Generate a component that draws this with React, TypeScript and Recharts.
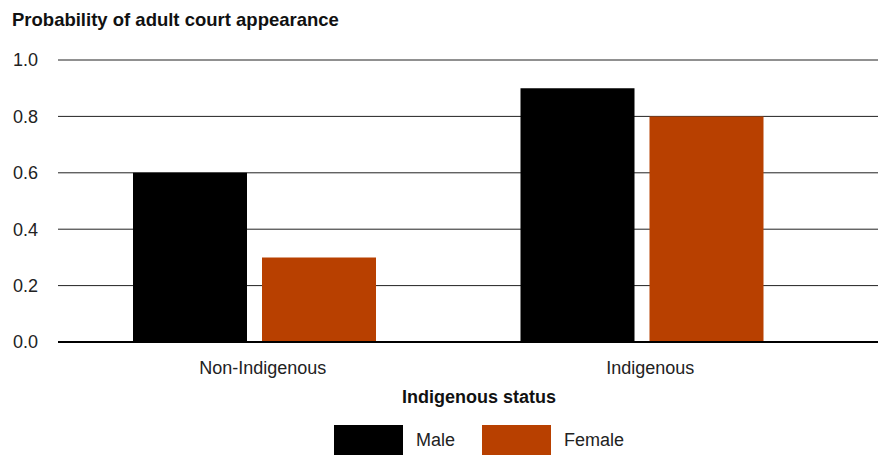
import React from "react";
import { BarChart, Bar, XAxis, YAxis, CartesianGrid, Legend } from "recharts";

const categories = ["Non-Indigenous", "Indigenous"];
const maleValues = [0.6, 0.9];
const femaleValues = [0.3, 0.8];
const yTicks = [0, 0.2, 0.4, 0.6, 0.8, 1.0];
const seriesNames = ["Male", "Female"];
const seriesColors = ["#000000", "#B84000"];

const data = categories.map((c, i) => ({
  category: c,
  Male: maleValues[i],
  Female: femaleValues[i],
}));

const FONT = "'Liberation Sans', Arial, Helvetica, sans-serif";

const LegendContent = () => (
  <div
    style={{
      display: "flex",
      justifyContent: "center",
      alignItems: "center",
      height: 36,
      fontFamily: FONT,
      fontSize: 18,
      color: "#222",
    }}
  >
    {seriesNames.map((n, i) => (
      <div key={n} style={{ display: "flex", alignItems: "center", marginRight: i === 0 ? 27 : 0 }}>
        <div style={{ width: 69, height: 30, background: seriesColors[i], marginRight: 13 }} />
        <span>{n}</span>
      </div>
    ))}
  </div>
);

export default function App() {
  return (
    <div style={{ position: "absolute", left: 0, top: 0, width: 887, height: 456, background: "#fff" }}>
      <div
        style={{
          position: "absolute",
          left: 12,
          top: 11,
          fontFamily: FONT,
          fontWeight: "bold",
          fontSize: 18.5,
          lineHeight: "18.5px",
          color: "#111",
          whiteSpace: "nowrap",
          zIndex: 2,
        }}
      >
        Probability of adult court appearance
      </div>
      <BarChart
        width={887}
        height={456}
        data={data}
        margin={{ top: 60, right: 9, bottom: 0, left: 0 }}
        barSize={114}
        barGap={15}
      >
        <CartesianGrid vertical={false} stroke="#222" strokeWidth={1} />
        <XAxis
          dataKey="category"
          height={78}
          padding={{ left: 3, right: 42 }}
          axisLine={{ stroke: "#000", strokeWidth: 2 }}
          tickLine={false}
          tickSize={0}
          tickMargin={19}
          tick={{ fontSize: 18, fill: "#222", fontFamily: FONT, dx: 8 }}
          label={{
            value: "Indigenous status",
            position: "bottom",
            offset: -30,
            dx: 11,
            style: { fontSize: 18, fontWeight: "bold", fill: "#111", fontFamily: FONT },
          }}
        />
        <YAxis
          width={58}
          domain={[0, 1]}
          ticks={yTicks}
          axisLine={false}
          tickLine={false}
          tickSize={0}
          tickMargin={20}
          tickFormatter={(v: number) => v.toFixed(1)}
          tick={{ fontSize: 18, fill: "#222", fontFamily: FONT }}
        />
        <Legend
          verticalAlign="bottom"
          content={<LegendContent />}
          wrapperStyle={{ left: 71, width: 816, bottom: -2 }}
        />
        <Bar dataKey="Male" fill={seriesColors[0]} isAnimationActive={false} />
        <Bar dataKey="Female" fill={seriesColors[1]} isAnimationActive={false} />
      </BarChart>
    </div>
  );
}
